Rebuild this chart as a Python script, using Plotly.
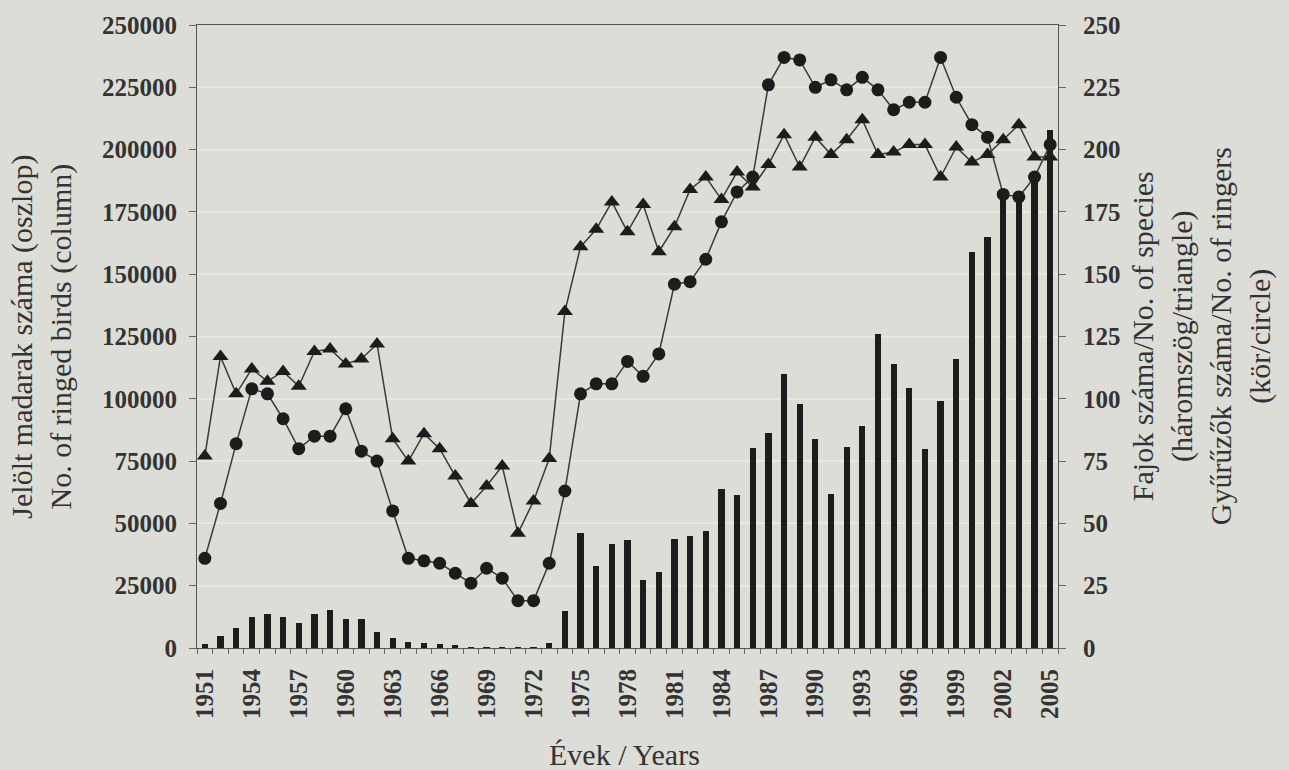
import plotly.graph_objects as go

years = list(range(1951, 2006))

ringed_birds = [1700, 5000, 8000, 12300, 13500, 12300, 10000, 13500, 15200, 11500,
                11500, 6400, 4200, 2500, 2200, 1700, 1400, 500, 600, 600,
                300, 500, 2200, 14700, 46000, 33000, 41700, 43400, 27400, 30700,
                43600, 45000, 47000, 63900, 61300, 80200, 86100, 110000, 98000, 84000,
                62000, 80500, 89000, 126000, 114000, 104500, 80000, 99000, 116000, 159000,
                165000, 182000, 181000, 190000, 208000]

species = [77, 117, 102, 112, 107, 111, 105, 119, 120, 114,
           116, 122, 84, 75, 86, 80, 69, 58, 65, 73,
           46, 59, 76, 135, 161, 168, 179, 167, 178, 159,
           169, 184, 189, 180, 191, 185, 194, 206, 193, 205,
           198, 204, 212, 198, 199, 202, 202, 189, 201, 195,
           198, 204, 210, 197, 197]

ringers = [36, 58, 82, 104, 102, 92, 80, 85, 85, 96,
           79, 75, 55, 36, 35, 34, 30, 26, 32, 28,
           19, 19, 34, 63, 102, 106, 106, 115, 109, 118,
           146, 147, 156, 171, 183, 189, 226, 237, 236, 225,
           228, 224, 229, 224, 216, 219, 219, 237, 221, 210,
           205, 182, 181, 189, 202]

x_tick_years = list(range(1951, 2006, 3))
left_ticks = list(range(0, 250001, 25000))
right_ticks = list(range(0, 251, 25))

BG = "#dcddd6"
INK = "#1c1c1c"
TXT = "#333333"
tick_font = dict(family="Liberation Serif", size=25, color=TXT, weight="bold")
title_font = dict(family="Liberation Serif", size=30, color=TXT)

fig = go.Figure()
fig.add_trace(go.Bar(x=years, y=ringed_birds, width=0.4, marker=dict(color=INK, line=dict(width=0)),
                     name="ringed birds"))
fig.add_trace(go.Scatter(x=years, y=species, yaxis="y2", mode="lines+markers",
                         line=dict(color="#3a3a3a", width=1.5),
                         marker=dict(symbol="triangle-up", size=14, color=INK),
                         name="species"))
fig.add_trace(go.Scatter(x=years, y=ringers, yaxis="y2", mode="lines+markers",
                         line=dict(color="#3a3a3a", width=1.5),
                         marker=dict(symbol="circle", size=13, color=INK),
                         name="ringers"))

half_years = [y - 0.5 for y in years] + [years[-1] + 0.5]

fig.update_layout(
    width=1289, height=770,
    margin=dict(l=197, r=231, t=21, b=122),
    paper_bgcolor=BG, plot_bgcolor=BG,
    showlegend=False,
    bargap=0,
    xaxis=dict(range=[1950.5, 2005.5], tickmode="array", tickvals=x_tick_years,
               ticktext=[str(v) for v in x_tick_years], tickangle=-90,
               tickfont=tick_font, ticks="", ticklabelstandoff=10,
               showline=True, linecolor="#555555", linewidth=1, mirror=True,
               showgrid=False, zeroline=False,
               minor=dict(tickmode="array", tickvals=half_years, ticks="outside",
                          ticklen=5, tickcolor="#666666", showgrid=False)),
    yaxis=dict(range=[0, 250000], tickmode="array", tickvals=left_ticks,
               ticktext=[str(v) for v in left_ticks],
               tickfont=tick_font, ticks="outside", ticklen=7, tickcolor="#666666",
               ticklabelstandoff=7,
               showline=True, linecolor="#555555", linewidth=1,
               showgrid=True, gridcolor="rgba(255,255,255,0.3)", gridwidth=2,
               zeroline=False),
    yaxis2=dict(range=[0, 250], overlaying="y", side="right", tickmode="array",
                tickvals=right_ticks, ticktext=[str(v) for v in right_ticks],
                tickfont=tick_font, ticks="outside", ticklen=7, tickcolor="#666666",
                ticklabelstandoff=12,
                showline=True, linecolor="#555555", linewidth=1,
                showgrid=False, zeroline=False),
    annotations=[
        dict(text="Jelölt madarak száma (oszlop)<br>No. of ringed birds (column)",
             xref="paper", yref="paper", x=-0.181, y=0.5, xanchor="center", yanchor="middle",
             textangle=-90, showarrow=False, font=title_font),
        dict(text="Fajok száma/No. of species<br>(háromszög/triangle)<br>"
                  "Gyűrűzők száma/No. of ringers<br>(kör/circle)",
             xref="paper", yref="paper", x=1.167, y=0.5, xanchor="center", yanchor="middle",
             textangle=-90, showarrow=False, font=title_font),
        dict(text="Évek / Years", xref="paper", yref="paper", x=0.497, y=-0.171,
             xanchor="center", yanchor="middle", showarrow=False, font=title_font),
    ],
)

fig.write_html(
    "out.html",
    config={"displayModeBar": False, "staticPlot": True},
    post_script="document.body.style.margin='0';document.body.style.padding='0';"
                "document.body.style.overflow='hidden';"
                "document.body.style.background='" + BG + "';",
)
